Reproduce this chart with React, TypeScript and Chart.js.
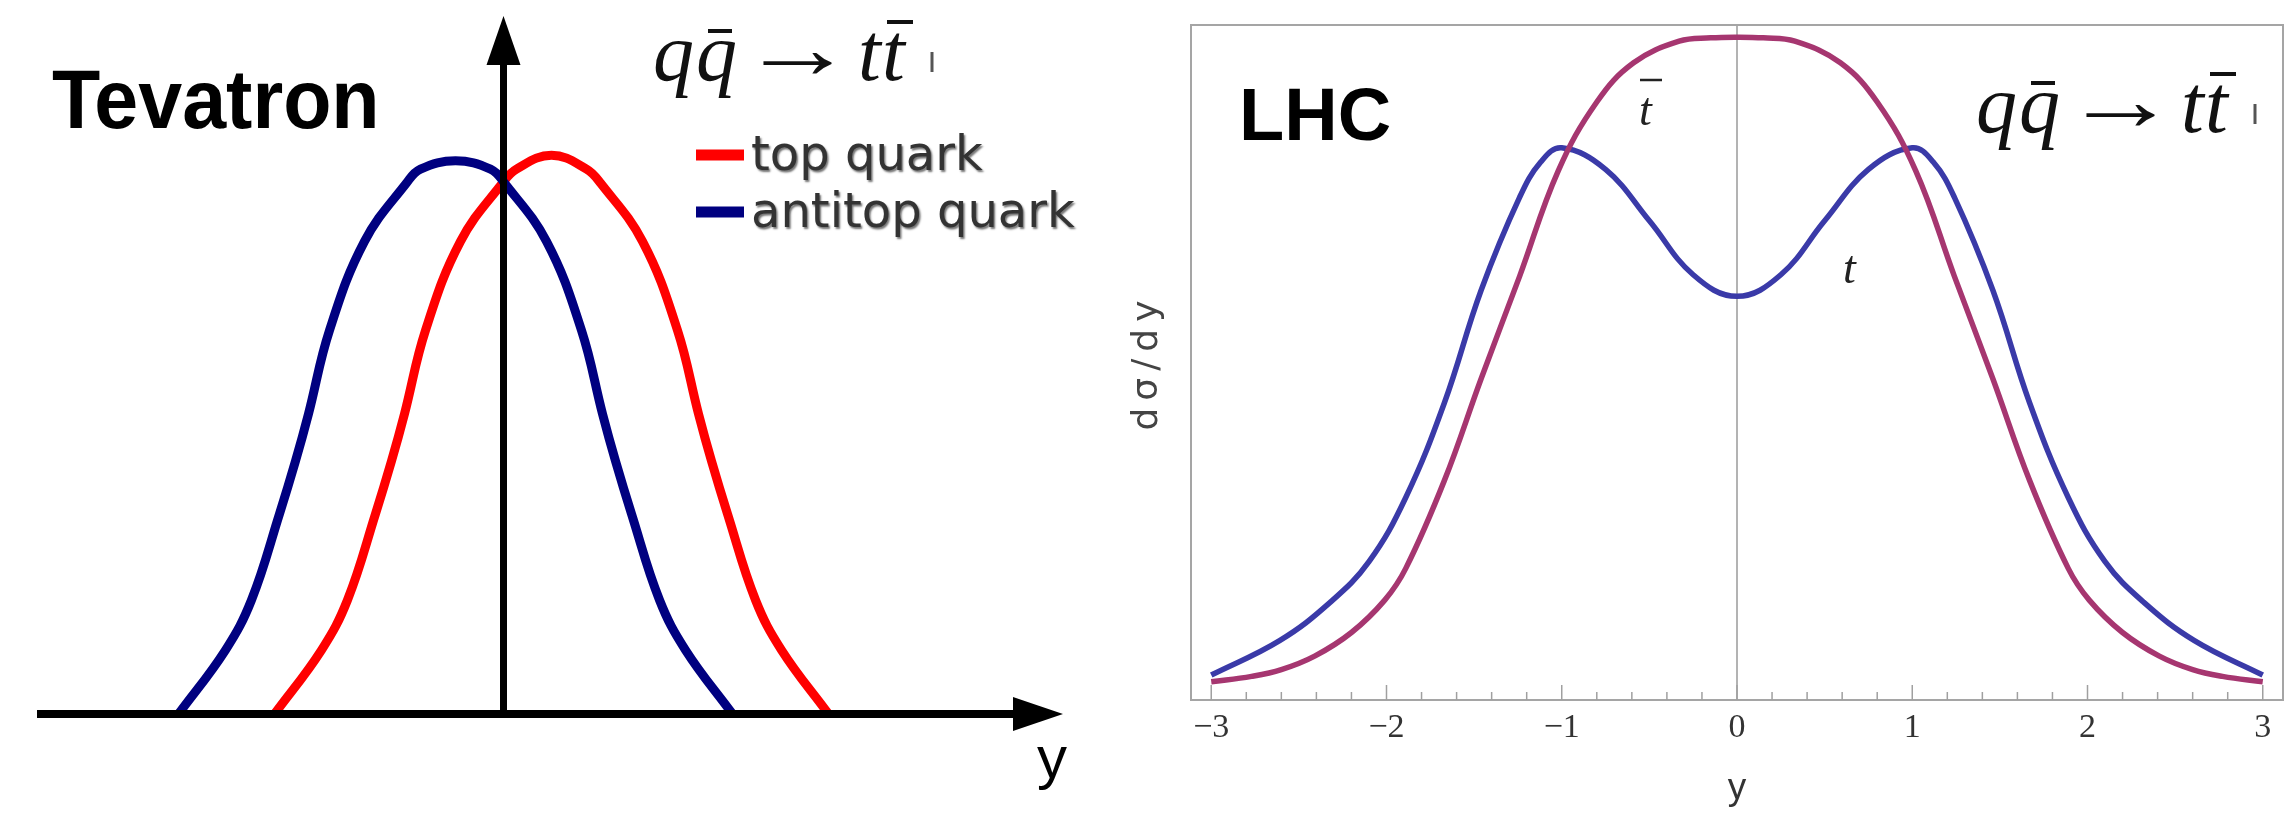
import React, { useEffect, useRef } from "react";
import { Chart, registerables } from "chart.js";

Chart.register(...registerables);

// ---------------- Tevatron panel (left) ----------------
const tevTopRapidity = [-1.145, -0.91, -0.78, -0.64, -0.56, -0.495, -0.39, -0.215, -0.005, 0.065, 0.24, 0.415, 0.485, 0.695, 0.87, 0.975, 1.04, 1.12, 1.26, 1.39, 1.625];
const tevTopYield = [0, 0.115, 0.205, 0.36, 0.455, 0.54, 0.69, 0.85, 0.955, 0.98, 1.005, 0.98, 0.955, 0.85, 0.69, 0.54, 0.455, 0.36, 0.205, 0.115, 0];
const tevAntitopRapidity = [-1.625, -1.39, -1.26, -1.12, -1.04, -0.975, -0.87, -0.695, -0.485, -0.415, -0.24, -0.065, 0.005, 0.215, 0.39, 0.495, 0.56, 0.64, 0.78, 0.91, 1.145];
const tevAntitopYield = [0, 0.115, 0.205, 0.36, 0.455, 0.54, 0.69, 0.85, 0.955, 0.98, 0.995, 0.98, 0.955, 0.85, 0.69, 0.54, 0.455, 0.36, 0.205, 0.115, 0];
const tevLegendLabels = ["top quark", "antitop quark"];
const tevAxisStart = -2.3325;
const tevAxisTipX = 2.7975;
const tevAxisTipY = 1.2554;

// ---------------- LHC panel (right) ----------------
const lhcTopRapidity = [-3, -2.61, -2.32, -2.1, -1.89, -1.67, -1.46, -1.24, -1.12, -1.0, -0.75, -0.5, -0.25, 0, 0.25, 0.5, 0.75, 1.0, 1.12, 1.24, 1.46, 1.67, 1.89, 2.1, 2.32, 2.61, 3];
const lhcTopDsdy = [0.037, 0.088, 0.145, 0.205, 0.3, 0.44, 0.607, 0.745, 0.797, 0.818, 0.786, 0.71, 0.63, 0.598, 0.63, 0.71, 0.786, 0.818, 0.797, 0.745, 0.607, 0.44, 0.3, 0.205, 0.145, 0.088, 0.037];
const lhcAntitopRapidity = [-3, -2.77, -2.6, -2.41, -2.2, -2.01, -1.89, -1.67, -1.46, -1.24, -1.02, -0.8, -0.59, -0.33, -0.15, 0, 0.15, 0.33, 0.59, 0.8, 1.02, 1.24, 1.46, 1.67, 1.89, 2.01, 2.2, 2.41, 2.6, 2.77, 3];
const lhcAntitopDsdy = [0.027, 0.035, 0.045, 0.065, 0.1, 0.148, 0.195, 0.325, 0.476, 0.628, 0.784, 0.886, 0.944, 0.976, 0.981, 0.982, 0.981, 0.976, 0.944, 0.886, 0.784, 0.628, 0.476, 0.325, 0.195, 0.148, 0.1, 0.065, 0.045, 0.035, 0.027];
const lhcTickValues = [-3, -2, -1, 0, 1, 2, 3];
const lhcTickLabels = ["\u22123", "\u22122", "\u22121", "0", "1", "2", "3"];

const toPoints = (xs: number[], ys: number[]) => xs.map((x, i) => ({ x, y: ys[i] }));

const SERIF = '"Liberation Serif", "DejaVu Serif", serif';
const SANS = '"Liberation Sans", Arial, sans-serif';

function seg(ctx: CanvasRenderingContext2D, x1: number, y1: number, x2: number, y2: number) {
  ctx.beginPath();
  ctx.moveTo(x1, y1);
  ctx.lineTo(x2, y2);
  ctx.stroke();
}

function drawFormula(ctx: CanvasRenderingContext2D, ox: number, base: number) {
  ctx.save();
  ctx.fillStyle = "#111";
  ctx.strokeStyle = "#111";
  ctx.textAlign = "left";
  ctx.textBaseline = "alphabetic";
  const it = `italic 82px ${SERIF}`;
  ctx.font = it;
  ctx.fillText("q", ox, base);
  ctx.fillText("q", ox + 43, base);
  ctx.save();
  ctx.font = `80px ${SERIF}`;
  const m = ctx.measureText("\u2192");
  const visL = m.actualBoundingBoxLeft || 0;
  const visW = (m.actualBoundingBoxRight || m.width) + visL || 40;
  const sx = 69 / visW;
  ctx.translate(ox + 110 + visL * sx, base - 2);
  ctx.scale(sx, 1.1);
  ctx.fillText("\u2192", 0, 0);
  ctx.restore();
  ctx.font = it;
  ctx.fillText("t", ox + 205, base);
  ctx.fillText("t", ox + 229, base);
  ctx.lineWidth = 4;
  seg(ctx, ox + 55, base - 49, ox + 79, base - 49);
  seg(ctx, ox + 234, base - 58, ox + 260, base - 58);
  ctx.lineWidth = 3;
  ctx.strokeStyle = "#555";
  seg(ctx, ox + 279, base - 28, ox + 279, base - 8);
  ctx.restore();
}

const leftDecor = {
  id: "leftDecor",
  afterDatasetsDraw(chart: any) {
    const { ctx } = chart;
    const xs = chart.scales.x;
    const ys = chart.scales.y;
    const ox = xs.getPixelForValue(0);
    const oy = ys.getPixelForValue(0);
    ctx.save();
    ctx.fillStyle = "#000";
    ctx.strokeStyle = "#000";
    ctx.lineCap = "butt";
    const xl = xs.getPixelForValue(tevAxisStart);
    const xt = xs.getPixelForValue(tevAxisTipX);
    ctx.lineWidth = 8;
    seg(ctx, xl, oy, xt - 45, oy);
    ctx.beginPath();
    ctx.moveTo(xt, oy);
    ctx.lineTo(xt - 50, oy - 17);
    ctx.lineTo(xt - 50, oy + 17);
    ctx.closePath();
    ctx.fill();
    const yt = ys.getPixelForValue(tevAxisTipY);
    ctx.lineWidth = 7;
    seg(ctx, ox, oy, ox, yt + 45);
    ctx.beginPath();
    ctx.moveTo(ox, yt);
    ctx.lineTo(ox - 17, yt + 49);
    ctx.lineTo(ox + 17, yt + 49);
    ctx.closePath();
    ctx.fill();

    ctx.save();
    ctx.translate(52, 128);
    ctx.scale(0.94, 1);
    ctx.font = `bold 84px ${SANS}`;
    ctx.fillStyle = "#000";
    ctx.fillText("Tevatron", 0, 0);
    ctx.restore();

    drawFormula(ctx, 653, 80);

    const legendColors = ["#ff0000", "#000080"];
    const legendY = [155, 212];
    tevLegendLabels.forEach((label, i) => {
      ctx.strokeStyle = legendColors[i];
      ctx.lineWidth = 11;
      seg(ctx, 696, legendY[i], 744, legendY[i]);
      ctx.save();
      ctx.font = `48px "DejaVu Sans", sans-serif`;
      ctx.fillStyle = "#333";
      ctx.shadowColor = "rgba(0,0,0,0.55)";
      ctx.shadowBlur = 2;
      ctx.shadowOffsetX = 1.5;
      ctx.shadowOffsetY = 1.5;
      ctx.fillText(label, 751, legendY[i] + 15);
      ctx.restore();
    });

    ctx.font = `60px ${SANS}`;
    ctx.fillStyle = "#000";
    ctx.fillText("y", 1037, 778);
    ctx.restore();
  },
};

const rightDecor = {
  id: "rightDecor",
  beforeDatasetsDraw(chart: any) {
    const { ctx, chartArea } = chart;
    const xs = chart.scales.x;
    ctx.save();
    ctx.strokeStyle = "#9a9a9a";
    ctx.lineWidth = 1.5;
    const x0 = xs.getPixelForValue(0);
    seg(ctx, x0, chartArea.top, x0, chartArea.bottom);
    ctx.restore();
  },
  afterDatasetsDraw(chart: any) {
    const { ctx, chartArea } = chart;
    const xs = chart.scales.x;
    const { left, right, top, bottom } = chartArea;
    ctx.save();
    ctx.strokeStyle = "#a5a5a5";
    ctx.lineWidth = 2;
    ctx.strokeRect(left, top, right - left, bottom - top);
    ctx.strokeStyle = "#a0a0a0";
    ctx.lineWidth = 1.5;
    for (let i = 0; i < lhcTickValues.length; i++) {
      const v = lhcTickValues[i];
      const px = xs.getPixelForValue(v);
      seg(ctx, px, bottom, px, bottom - 15);
      if (i < lhcTickValues.length - 1) {
        const step = (lhcTickValues[i + 1] - v) / 5;
        for (let k = 1; k < 5; k++) {
          const mp = xs.getPixelForValue(v + k * step);
          seg(ctx, mp, bottom, mp, bottom - 8);
        }
      }
    }
    ctx.fillStyle = "#333";
    ctx.font = `34px ${SERIF}`;
    ctx.textAlign = "center";
    ctx.textBaseline = "alphabetic";
    lhcTickValues.forEach((v, i) => {
      ctx.fillText(lhcTickLabels[i], xs.getPixelForValue(v), 737);
    });
    ctx.font = `37px ${SANS}`;
    ctx.fillStyle = "#333";
    ctx.fillText("y", xs.getPixelForValue(0), 799);

    ctx.save();
    ctx.translate(48, 362);
    ctx.rotate(-Math.PI / 2);
    ctx.font = `36px "DejaVu Sans", sans-serif`;
    (ctx as any).letterSpacing = "7px";
    ctx.textAlign = "center";
    ctx.textBaseline = "middle";
    ctx.fillStyle = "#444";
    ctx.fillText("d\u03c3/dy", 0, 0);
    ctx.restore();

    ctx.textAlign = "left";
    ctx.font = `bold 74px ${SANS}`;
    ctx.fillStyle = "#000";
    ctx.fillText("LHC", 139, 140);

    drawFormula(ctx, 876, 132);

    ctx.font = `italic 46px ${SERIF}`;
    ctx.fillStyle = "#222";
    ctx.fillText("t", 539, 125);
    ctx.strokeStyle = "#222";
    ctx.lineWidth = 2.5;
    seg(ctx, 540, 80, 562, 80);
    ctx.fillText("t", 743, 283);
    ctx.restore();
  },
};

const baseOptions = (xmin: number, xmax: number, ymin: number, ymax: number, padding: any) => ({
  responsive: false,
  animation: false as const,
  events: [] as any[],
  layout: { padding },
  plugins: {
    legend: { display: false },
    tooltip: { enabled: false },
    title: { display: false },
  },
  elements: { point: { radius: 0 }, line: { tension: 0.4, capBezierPoints: true } },
  scales: {
    x: { type: "linear" as const, display: false, min: xmin, max: xmax },
    y: { type: "linear" as const, display: false, min: ymin, max: ymax },
  },
});

export default function App() {
  const leftRef = useRef<HTMLCanvasElement>(null);
  const rightRef = useRef<HTMLCanvasElement>(null);

  useEffect(() => {
    const left = new Chart(leftRef.current as HTMLCanvasElement, {
      type: "line",
      data: {
        datasets: [
          {
            label: tevLegendLabels[1],
            data: toPoints(tevAntitopRapidity, tevAntitopYield),
            borderColor: "#000080",
            borderWidth: 9,
            tension: 0.4,
            fill: false,
          },
          {
            label: tevLegendLabels[0],
            data: toPoints(tevTopRapidity, tevTopYield),
            borderColor: "#ff0000",
            borderWidth: 9,
            tension: 0.4,
            fill: false,
          },
        ],
      },
      options: baseOptions(-2.5175, 2.9825, -0.17806, 1.28417, 0) as any,
      plugins: [leftDecor],
    });

    const right = new Chart(rightRef.current as HTMLCanvasElement, {
      type: "line",
      data: {
        datasets: [
          {
            label: "antitop",
            data: toPoints(lhcAntitopRapidity, lhcAntitopDsdy),
            borderColor: "rgb(166,54,112)",
            borderWidth: 5.5,
            tension: 0.4,
            fill: false,
          },
          {
            label: "top",
            data: toPoints(lhcTopRapidity, lhcTopDsdy),
            borderColor: "rgb(58,58,168)",
            borderWidth: 5.5,
            tension: 0.4,
            fill: false,
          },
        ],
      },
      options: baseOptions(-3.1155, 3.1155, 0, 1, { left: 91, right: 12, top: 25, bottom: 113 }) as any,
      plugins: [rightDecor],
    });

    return () => {
      left.destroy();
      right.destroy();
    };
  }, []);

  return (
    <div style={{ position: "absolute", left: 0, top: 0, width: 2295, height: 813, background: "#fff" }}>
      <canvas ref={leftRef} width={1100} height={813} style={{ position: "absolute", left: 0, top: 0 }} />
      <canvas ref={rightRef} width={1195} height={813} style={{ position: "absolute", left: 1100, top: 0 }} />
    </div>
  );
}
